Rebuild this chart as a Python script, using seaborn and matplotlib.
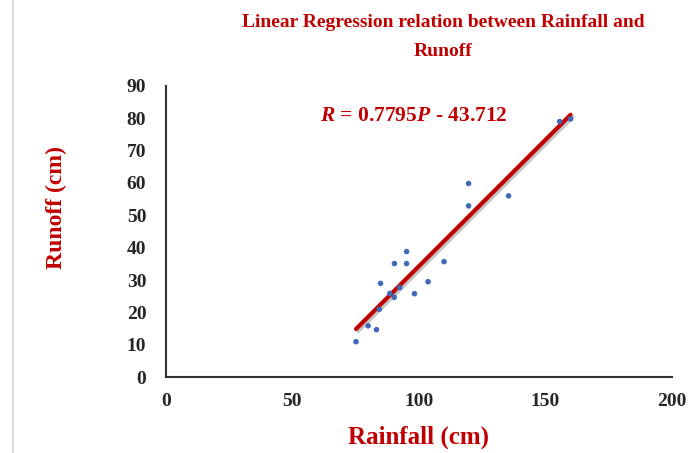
import matplotlib
matplotlib.use("Agg")
import matplotlib.pyplot as plt
import matplotlib.patheffects as pe
from matplotlib.lines import Line2D
import numpy as np
import pandas as pd
import seaborn as sns

# Data
rainfall = [75.2, 80.0, 83.3, 84.4, 84.9, 88.6, 90.3, 92.5, 90.4, 95.2,
            95.2, 98.3, 103.7, 110.0, 119.7, 119.7, 135.5, 155.7, 160.0]
runoff = [11.0, 15.9, 14.7, 21.0, 29.0, 25.9, 24.7, 27.7, 35.1, 35.1,
          38.8, 25.8, 29.5, 35.7, 59.8, 52.9, 56.0, 78.9, 79.7]
slope = 0.7795
intercept = -43.712
x_ticks = [0, 50, 100, 150, 200]
y_ticks = [0, 10, 20, 30, 40, 50, 60, 70, 80, 90]

df = pd.DataFrame({"Rainfall": rainfall, "Runoff": runoff})
line_x = [min(rainfall), max(rainfall)]
line_df = pd.DataFrame({"Rainfall": line_x,
                        "Runoff": [slope * v + intercept for v in line_x]})

sns.set_theme(style="white")
plt.rcParams["font.family"] = ["Liberation Serif", "DejaVu Serif"]
plt.rcParams["mathtext.fontset"] = "custom"
plt.rcParams["mathtext.bfit"] = "Liberation Serif:italic:bold"
plt.rcParams["mathtext.it"] = "Liberation Serif:italic:bold"
plt.rcParams["mathtext.rm"] = "Liberation Serif:bold"

RED = "#C00000"
fig = plt.figure(figsize=(6.89, 4.53), dpi=100)
ax = fig.add_axes([0.2405, 0.167, 0.7345, 0.644])

sns.lineplot(data=line_df, x="Rainfall", y="Runoff", ax=ax, color=RED, lw=3,
             path_effects=[pe.SimpleLineShadow(offset=(1.5, -1.5), alpha=0.25), pe.Normal()],
             zorder=2)
sns.scatterplot(data=df, x="Rainfall", y="Runoff", ax=ax, color="#4169B8",
                s=16, edgecolor="none", zorder=3)

ax.set_xlim(0, 200)
ax.set_ylim(0, 90)
ax.set_xticks(x_ticks)
ax.set_yticks(y_ticks)
ax.set_xticklabels([str(t) for t in x_ticks], fontsize=14, fontweight="bold")
ax.set_yticklabels([str(t) for t in y_ticks], fontsize=14, fontweight="bold")
ax.tick_params(axis="x", direction="in", length=5, width=1.2, color="#333333", pad=11)
ax.tick_params(axis="y", length=0, pad=14)

for s in ["top", "right"]:
    ax.spines[s].set_visible(False)
for s in ["left", "bottom"]:
    ax.spines[s].set_color("#333333")
    ax.spines[s].set_linewidth(1.5)

ax.set_xlabel("Rainfall (cm)", fontsize=18, fontweight="bold", color=RED)
ax.set_ylabel("Runoff (cm)", fontsize=17, fontweight="bold", color=RED)
ax.xaxis.label.set_va("center")
ax.yaxis.label.set_va("center")
ax.xaxis.set_label_coords(0.5, (377.3 - 437) / 291.6)
ax.yaxis.set_label_coords((56.7 - 165.7) / 506.3, (377.3 - 208) / 291.6)

ax.text(98, 80.5, r"$\mathbfit{R}$" + " = 0.7795" + r"$\mathbfit{P}$" + " - 43.712",
        fontsize=15.5, fontweight="bold", color=RED, ha="center", va="center")

fig.suptitle("Linear Regression relation between Rainfall and\nRunoff",
             x=0.643, y=0.968, fontsize=14, fontweight="bold", color=RED,
             linespacing=1.85)

fig.add_artist(Line2D([13 / 689, 13 / 689], [0.0, 1.0], color="#DDDDDD", lw=1.5,
                      transform=fig.transFigure))

fig.savefig("out.png", dpi=100)
